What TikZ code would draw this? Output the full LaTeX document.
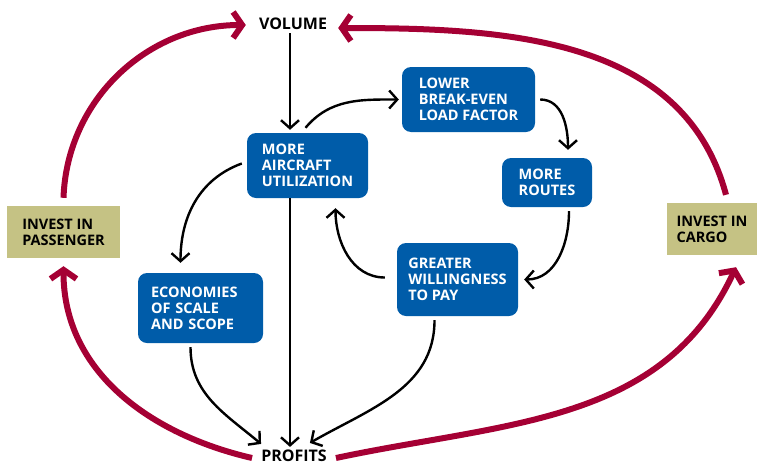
\documentclass[tikz,border=0pt]{standalone}
\usepackage{fontspec}
\setmainfont{Open Sans}
\usetikzlibrary{arrows.meta}
\definecolor{ablue}{RGB}{0,92,169}
\definecolor{olivebox}{RGB}{197,194,132}
\definecolor{crim}{RGB}{165,0,52}
\tikzset{
  bx/.style={fill=ablue, rounded corners=9pt, text=white, font=\bfseries\fontsize{14.5}{16}\selectfont, align=left, inner sep=0pt},
  ib/.style={fill=olivebox, text=black, font=\bfseries\fontsize{14.5}{16}\selectfont, align=left, inner sep=0pt},
  lbl/.style={font=\bfseries\fontsize{16}{18}\selectfont, inner sep=3pt},
  blkarr/.style={draw=black, line width=2.4pt, -{Straight Barb[length=8pt,width=18pt]}},
  redarr/.style={draw=crim, line width=6pt, -{Straight Barb[length=9pt,width=26pt]}}
}
\begin{document}
\begin{tikzpicture}[x=1pt,y=1pt]
\useasboundingbox (0,0) rectangle (757,-466);
% labels
\node[lbl] (vol) at (293,-24) {VOLUME};
\node[lbl] (prof) at (294,-456) {PROFITS};
% blue boxes
\node[bx, minimum width=121pt, minimum height=65pt] (air) at (307.5,-165.5) {MORE\\AIRCRAFT\\UTILIZATION};
\node[bx, minimum width=133pt, minimum height=65pt] (low) at (468.5,-99.5) {LOWER\\BREAK-EVEN\\LOAD FACTOR};
\node[bx, minimum width=90pt, minimum height=49pt] (routes) at (547,-182.5) {MORE\\ROUTES};
\node[bx, minimum width=121pt, minimum height=73pt] (will) at (457.5,-279.5) {GREATER\\WILLINGNESS\\TO PAY};
\node[bx, inner xsep=13pt, text width=99pt, minimum height=70pt] (econ) at (200.5,-308) {ECONOMIES\\OF SCALE\\AND SCOPE};
% olive boxes
\node[ib, minimum width=113pt, minimum height=52pt] (pass) at (63.5,-232) {INVEST IN\\PASSENGER};
\node[ib, minimum width=90pt, minimum height=52pt] (cargo) at (712,-229) {INVEST IN\\CARGO};
% black arrows
\draw[blkarr] ([xshift=-3pt]vol.south) -- ([xshift=-3pt,yshift=3pt]vol.south |- air.north);
\draw[blkarr] ([xshift=-2pt,yshift=5pt]air.north) to[out=50,in=180] ([xshift=-3pt]low.west);
\draw[blkarr] ([xshift=5pt]low.east) to[out=0,in=90] ([xshift=21pt,yshift=8pt]routes.north);
\draw[blkarr] ([xshift=22pt,yshift=-4pt]routes.south) to[out=-90,in=0] ([xshift=6pt]will.east);
\draw[blkarr] ([xshift=-12pt,yshift=2pt]will.west) to[out=180,in=-90] ([xshift=28pt,yshift=-10pt]air.south);
\draw[blkarr] ([xshift=-5pt,yshift=2pt]air.west) to[out=200,in=90] ([xshift=-20pt,yshift=10pt]econ.north);
\draw[blkarr] ([xshift=-17.5pt]air.south) -- ([xshift=-17.5pt]air.south |- prof.north);
\draw[blkarr] ([xshift=-10pt,yshift=-4pt]econ.south) to[out=-90,in=140] ([xshift=3pt,yshift=3pt]prof.north west);
\draw[blkarr] ([xshift=-23pt,yshift=-4pt]will.south) to[out=-90,in=30] ([xshift=-20pt,yshift=4pt]prof.north east);
% red arrows
\draw[redarr] ([yshift=8pt]pass.north) to[out=88,in=180] ([xshift=-10pt,yshift=-1pt]vol.west);
\draw[redarr] ([xshift=14pt,yshift=8pt]cargo.north) to[out=105,in=0] ([xshift=8pt,yshift=-4pt]vol.east);
\draw[redarr] ([xshift=-6pt,yshift=-2pt]prof.west) to[out=167,in=-90] ([yshift=-8pt]pass.south);
\draw[redarr] ([xshift=6pt,yshift=-2pt]prof.east) to[out=12,in=-115] ([xshift=24pt,yshift=-12pt]cargo.south);
\end{tikzpicture}
\end{document}
